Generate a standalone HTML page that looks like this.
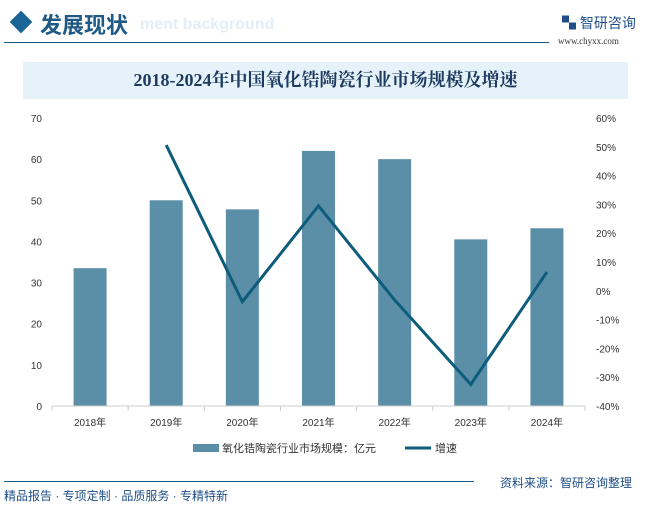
<!DOCTYPE html>
<html><head><meta charset="utf-8"><style>
body{margin:0;width:652px;height:508px;background:#fff;font-family:"Liberation Sans","Noto Sans CJK SC",sans-serif;position:relative;overflow:hidden}
.abs{position:absolute}
</style></head><body>
<div class="abs" style="left:13px;top:14px;width:16px;height:16px;background:#1a6496;transform:rotate(45deg)"></div>
<div class="abs" style="left:40px;top:8px;font-size:22px;color:#1f5a86;font-weight:bold">发展现状</div>
<div class="abs" style="left:140px;top:16px;font-size:16px;color:#e3eef6;font-weight:bold">ment background</div>
<div class="abs" style="left:562px;top:13px;font-size:14px;color:#1f4f86">▚ 智研咨询</div>
<div class="abs" style="left:558px;top:36px;font-size:9px;color:#333;font-family:'Liberation Serif',serif">www.chyxx.com</div>
<div class="abs" style="left:4px;top:42px;width:545px;height:1px;background:#1f5a86"></div>
<div class="abs" style="left:23px;top:62px;width:605px;height:37px;background:#e6f2fa;text-align:center;line-height:37px;font-size:18px;font-weight:bold;color:#1f3c60;font-family:'Liberation Serif','Noto Serif CJK SC',serif">2018-2024年中国氧化锆陶瓷行业市场规模及增速</div>
<svg class="abs" style="left:0;top:0" width="652" height="508" id="chart"></svg>
<div class="abs" style="left:4px;top:481px;width:470px;height:1px;background:#1f5a86"></div>
<div class="abs" style="left:4px;top:487px;font-size:12px;color:#1f4f86">精品报告 · 专项定制 · 品质服务 · 专精特新</div>
<div class="abs" style="left:500px;top:474px;font-size:12px;color:#1f4f86">资料来源：智研咨询整理</div>
<script>
const categories=["2018年","2019年","2020年","2021年","2022年","2023年","2024年"];
const marketSize=[33.5,50,47.8,62,60,40.5,43.2];
const growth=[null,50.6,-3.8,29.5,-3.2,-32.5,6.5];
const leftTicks=[0,10,20,30,40,50,60,70];
const rightTicks=[-40,-30,-20,-10,0,10,20,30,40,50,60];
const NS="http://www.w3.org/2000/svg",svg=document.getElementById('chart');
const x0=52,x1=585,yTop=118,yBot=406;
const bw=(x1-x0)/categories.length;
const xc=i=>x0+bw*(i+0.5);
const yL=v=>yBot-(v/70)*(yBot-yTop);
const yR=v=>yBot-((v+40)/100)*(yBot-yTop);
function mk(t,a){const e=document.createElementNS(NS,t);for(const k in a)e.setAttribute(k,a[k]);svg.appendChild(e);return e;}
leftTicks.forEach(v=>{const t=mk('text',{x:42,y:yL(v)+4,'text-anchor':'end','font-size':10,fill:'#333'});t.textContent=v;

});
rightTicks.forEach(v=>{const t=mk('text',{x:596,y:yR(v)+4,'font-size':10,fill:'#333'});t.textContent=v+'%';

});
marketSize.forEach((v,i)=>{const r=mk('rect',{x:xc(i)-16.5,y:yL(v),width:33,height:yBot-yL(v),fill:'#5b8fa8'});

});
const ax=mk('line',{x1:x0,x2:x1,y1:yBot,y2:yBot,stroke:'#ccc'});


for(let i=0;i<=categories.length;i++){const tk=mk('line',{x1:x0+bw*i,x2:x0+bw*i,y1:yBot,y2:yBot+5,stroke:'#ccc'});

}
categories.forEach((c,i)=>{const t=mk('text',{x:xc(i),y:426,'text-anchor':'middle','font-size':10,fill:'#333'});t.textContent=c;

});
const pts=growth.map((g,i)=>g===null?null:xc(i)+','+yR(g)).filter(p=>p);
const pl=mk('polyline',{points:pts.join(' '),fill:'none',stroke:'#0e5c7c','stroke-width':3,'stroke-linejoin':'miter'});


const lb=mk('rect',{x:193,y:444,width:26,height:8,fill:'#5b8fa8'});


const lt=mk('text',{x:222,y:452,'font-size':11,fill:'#333'});lt.textContent='氧化锆陶瓷行业市场规模：亿元';


const ll=mk('line',{x1:405,x2:431,y1:448,y2:448,stroke:'#0e5c7c','stroke-width':3});


const lt2=mk('text',{x:435,y:452,'font-size':11,fill:'#333'});lt2.textContent='增速';


</script>
</body></html>
